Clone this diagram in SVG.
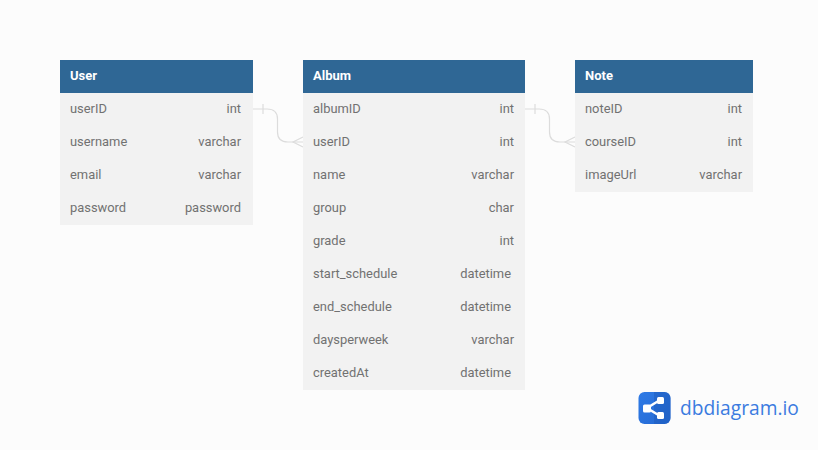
<svg xmlns="http://www.w3.org/2000/svg" width="818" height="450" viewBox="0 0 818 450">
<defs>
<style>
text{font-family:Roboto,"Liberation Sans",sans-serif;font-size:12.9px;fill:#717171}
.h{fill:#2f6795}
.b{fill:#f2f2f2}
.t{font-weight:700;fill:#fff;font-size:13px}
.r{text-anchor:end}
.c{fill:none;stroke:#dcdcdc;stroke-width:1.2}
</style>
<linearGradient id="lg" x1="0" y1="0" x2="1" y2="1"><stop offset="0" stop-color="#2f7be6"/><stop offset="1" stop-color="#2468d2"/></linearGradient>
</defs>
<rect width="818" height="450" fill="#fcfcfc"/>
<g id="connectors">
<path class="c" d="M253 109H267Q277.500 109 277.500 119V132Q277.500 142 288 142H303"/>
<path class="c" d="M263 104V114M303 137L293 142L303 147"/>
<path class="c" d="M525 109H539Q549.500 109 549.500 119V132Q549.500 142 560 142H575"/>
<path class="c" d="M535 104V114M575 137L565 142L575 147"/>
</g>
<g id="user">
<rect class="b" x="60" y="93" width="193" height="132"/>
<rect class="h" x="60" y="60" width="193" height="33"/>
<text class="t" x="70" y="80">User</text>
<text x="70" y="113">userID</text><text class="r" x="241" y="113">int</text>
<text x="70" y="146">username</text><text class="r" x="241" y="146">varchar</text>
<text x="70" y="179">email</text><text class="r" x="241" y="179">varchar</text>
<text x="70" y="212">password</text><text class="r" x="241" y="212">password</text>
</g>
<g id="album">
<rect class="b" x="303" y="93" width="222" height="297"/>
<rect class="h" x="303" y="60" width="222" height="33"/>
<text class="t" x="313" y="80">Album</text>
<text x="313" y="113">albumID</text><text class="r" x="514" y="113">int</text>
<text x="313" y="146">userID</text><text class="r" x="514" y="146">int</text>
<text x="313" y="179">name</text><text class="r" x="514" y="179">varchar</text>
<text x="313" y="212">group</text><text class="r" x="514" y="212">char</text>
<text x="313" y="245">grade</text><text class="r" x="514" y="245">int</text>
<text x="313" y="278">start_schedule</text><text class="r" x="511" y="278">datetime</text>
<text x="313" y="311">end_schedule</text><text class="r" x="511" y="311">datetime</text>
<text x="313" y="344">daysperweek</text><text class="r" x="514" y="344">varchar</text>
<text x="313" y="377">createdAt</text><text class="r" x="511" y="377">datetime</text>
</g>
<g id="note">
<rect class="b" x="575" y="93" width="178" height="99"/>
<rect class="h" x="575" y="60" width="178" height="33"/>
<text class="t" x="585" y="80">Note</text>
<text x="585" y="113">noteID</text><text class="r" x="742" y="113">int</text>
<text x="585" y="146">courseID</text><text class="r" x="742" y="146">int</text>
<text x="585" y="179">imageUrl</text><text class="r" x="742" y="179">varchar</text>
</g>
<g id="logo">
<rect x="638.500" y="392" width="32" height="32" rx="6" fill="url(#lg)"/>
<path d="M654 392H664.500a6 6 0 0 1 6 6V418a6 6 0 0 1-6 6H654Z" fill="#1f5cbd" opacity=".55"/>
<path d="M660 400L647 408L660 416" fill="none" stroke="#fff" stroke-width="2.500"/>
<rect x="643" y="404.500" width="8" height="8" rx="1.500" fill="#fff"/>
<rect x="657" y="397" width="7" height="7" rx="1.500" fill="#fff"/>
<rect x="657" y="412" width="7" height="7" rx="1.500" fill="#fff"/>
<text x="680" y="415" style="font-family:'Open Sans','Liberation Sans',sans-serif;font-size:19.2px;fill:#3b7be0">dbdiagram.io</text>
</g>
</svg>
